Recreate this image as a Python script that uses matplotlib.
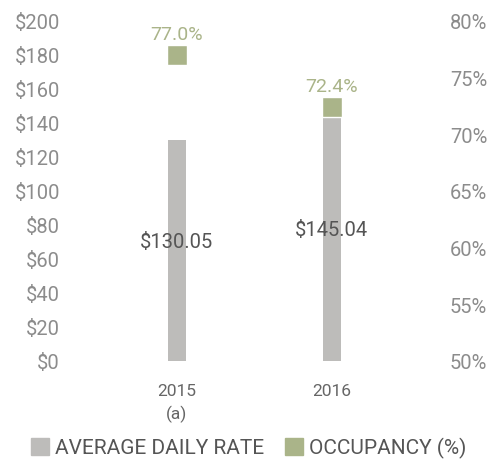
import numpy as np
import matplotlib
matplotlib.use("Agg")
import matplotlib.pyplot as plt
from matplotlib.patches import Patch

plt.rcParams['font.family'] = ['Roboto', 'DejaVu Sans']

# data
years = ['2015\n(a)', '2016']
adr = [130.05, 145.04]          # average daily rate, $
occupancy = [77.0, 72.4]        # occupancy, %

BAR_COLOR = '#bdbcba'
OCC_COLOR = '#aab489'
TICK_COLOR = '#8c8c8c'
TEXT_COLOR = '#555555'


def main():
    fig = plt.figure(figsize=(4.88, 4.64), dpi=100)
    ax = fig.add_axes([0.140, 0.220, 0.762, 0.7328])
    ax2 = ax.twinx()

    x = np.arange(len(years))
    ax.bar(x, adr, width=0.116, color=BAR_COLOR, zorder=2)
    for xi, v in zip(x, adr):
        ax.text(xi, v / 2 + 5, f"${v:,.2f}", ha='center', va='center',
                fontsize=14.5, color=TEXT_COLOR, zorder=3)

    ax2.scatter(x, occupancy, marker='s', s=190, color=OCC_COLOR,
                edgecolors='white', linewidths=1, zorder=4)
    for xi, v in zip(x, occupancy):
        ax2.annotate(f"{v:.1f}%", (xi, v), xytext=(0, 15),
                     textcoords='offset points', ha='center', va='center',
                     fontsize=14, color=OCC_COLOR)

    ax.set_xlim(-0.7, 1.7)
    ax.set_ylim(0, 200)
    ax.set_yticks(np.arange(0, 201, 20))
    ax.set_yticklabels([f"${t}" for t in range(0, 201, 20)])
    ax2.set_ylim(50, 80)
    ax2.set_yticks(np.arange(50, 81, 5))
    ax2.set_yticklabels([f"{t}%" for t in range(50, 81, 5)])

    ax.set_xticks(x)
    ax.set_xticklabels(years, linespacing=1.5)

    for a in (ax, ax2):
        for s in a.spines.values():
            s.set_visible(False)
        a.tick_params(length=0, labelsize=14.5, labelcolor=TICK_COLOR)
    ax.tick_params(axis='x', labelsize=12.5, pad=16, labelcolor='#666666')
    ax.tick_params(axis='y', pad=6)
    ax2.tick_params(axis='y', pad=7)

    handles = [Patch(color=BAR_COLOR, label='AVERAGE DAILY RATE'),
               Patch(color=OCC_COLOR, label='OCCUPANCY (%)')]
    fig.legend(handles=handles, loc='lower center', bbox_to_anchor=(0.51, -0.03),
               ncol=2, frameon=False, fontsize=15, handlelength=0.85,
               handleheight=0.85, handletextpad=0.3, columnspacing=1.0,
               labelcolor='#555555')

    fig.savefig('out.png', dpi=100)


if __name__ == '__main__':
    main()
